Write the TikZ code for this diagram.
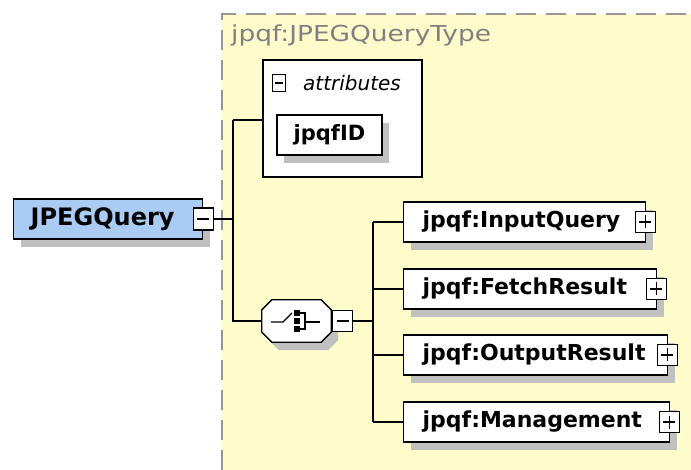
\documentclass[tikz,border=0pt]{standalone}
\usepackage{fontspec}
\setmainfont{DejaVu Sans}
\newfontfamily\typefont[FakeStretch=1.2]{DejaVu Sans}
\usetikzlibrary{shadows}

\definecolor{typeyellow}{RGB}{255,252,204}
\definecolor{elemblue}{RGB}{170,204,244}
\definecolor{shadowgray}{RGB}{192,192,192}
\definecolor{typegray}{RGB}{128,128,128}
\definecolor{dashgray}{RGB}{150,150,150}

\tikzset{
  boxshadow/.style={general shadow={fill=shadowgray, shadow xshift=7pt, shadow yshift=-8pt}},
  elem/.style={draw, fill=white, line width=1.3pt, anchor=west, minimum height=40pt,
    inner xsep=19pt, inner ysep=0pt, align=left, boxshadow,
    font=\fontsize{22}{26}\selectfont\bfseries},
  pmbox/.style={draw, fill=white, line width=1.1pt, inner sep=0pt,
    minimum width=20pt, minimum height=21pt},
  minusbox/.style={pmbox, path picture={
    \draw[line width=1.1pt] ([xshift=#1]path picture bounding box.west)
      -- ([xshift=-#1]path picture bounding box.east);}},
  minusbox/.default=4pt,
  plusbox/.style={pmbox, path picture={
    \draw[line width=1.1pt] ([xshift=4pt]path picture bounding box.west)
      -- ([xshift=-4pt]path picture bounding box.east);
    \draw[line width=1.1pt] ([yshift=-4pt]path picture bounding box.north)
      -- ([yshift=4pt]path picture bounding box.south);}},
  link/.style={line width=1.2pt}
}

% octagon round the sequence node
\newcommand\seqoctagon{([xshift=10pt]seq.north west) -- ([xshift=-10pt]seq.north east)
  -- ([yshift=-10pt]seq.north east) -- ([yshift=10pt]seq.south east)
  -- ([xshift=-10pt]seq.south east) -- ([xshift=10pt]seq.south west)
  -- ([yshift=10pt]seq.south west) -- ([yshift=-10pt]seq.north west) -- cycle}

\begin{document}
\begin{tikzpicture}[x=1pt,y=-1pt]
\useasboundingbox (0,0) rectangle (691,470);

% complex type area
\fill[typeyellow] (222,14) rectangle (691,470);
\draw[dashgray, line width=1.3pt, dash pattern=on 20pt off 10pt] (222,470) -- (222,14) -- (691,14);
\node[anchor=base west, inner sep=0pt, text=typegray, font=\typefont\fontsize{22}{26}\selectfont]
  (typename) at (231,42) {jpqf:JPEGQueryType};

% root element
\node[elem, fill=elemblue, text width=155pt, inner xsep=17pt,
  font=\fontsize{24}{28}\selectfont\bfseries] (jpeg) at (13,219) {JPEGQuery};
\node[minusbox, minimum height=22pt] (jpegmin) at (jpeg.east) {};

% attributes
\node[draw, fill=white, line width=1.3pt, minimum width=159pt, minimum height=117pt]
  (attrs) at (342.5,118.5) {};
\node[minusbox=2.5pt, minimum width=13pt, minimum height=17pt, line width=1pt] (attrmin) at (279,83) {};
\node[anchor=west, inner sep=0pt, font=\fontsize{20}{24}\selectfont\itshape] (attrlabel)
  at (303,83) {attributes};
\node[elem, anchor=center, inner xsep=0pt, minimum width=105pt, font=\fontsize{21}{25}\selectfont\bfseries]
  (jpqfid) at (329.5,135) {jpqfID};

% sequence compositor
\node[minimum width=69pt, minimum height=42pt, inner sep=0pt] (seq) at (296.5,321) {};
\fill[shadowgray, transform canvas={xshift=7pt, yshift=-8pt}] \seqoctagon;
\draw[fill=white, line width=1.3pt] \seqoctagon;
\draw[line width=1.2pt] (271,322) -- (283,322) -- (292,313);
\foreach \y in {313,321,329}
  \fill (294,\y-3) rectangle (300,\y+3);
\draw[line width=1.2pt] (300,313) -- (305,313) -- (305,329) -- (300,329);
\draw[line width=1.2pt] (305,322) -- (320,322);
\node[minusbox, anchor=west, minimum height=21pt] (seqmin) at ([xshift=1pt]seq.east) {};

% child elements
\node[elem, text width=204pt] (input) at (403,222) {jpqf:InputQuery};
\node[elem, text width=215pt] (fetch) at (403,289) {jpqf:FetchResult};
\node[elem, text width=226pt] (output) at (403,355) {jpqf:OutputResult};
\node[elem, text width=228pt] (manage) at (403,422) {jpqf:Management};
\foreach \n in {input,fetch,output,manage}
  \node[plusbox] (\n plus) at ([xshift=-1pt]\n.east) {};

% connectors
\coordinate (rootjoin) at (233,219);
\coordinate (seqjoin) at (373,321);
\draw[link] (jpegmin.east) -- (rootjoin);
\draw[link] (rootjoin |- 0,120) -- (rootjoin |- seq.west) -- (seq.west);
\draw[link] (rootjoin |- 0,120) -- (rootjoin |- 0,120 -| attrs.west);
\draw[link] (seqmin.east) -- (seqjoin);
\draw[link] (seqjoin |- input.west) -- (seqjoin |- manage.west);
\foreach \n in {input,fetch,output,manage}
  \draw[link] (seqjoin |- \n.west) -- (\n.west);

\end{tikzpicture}
\end{document}
